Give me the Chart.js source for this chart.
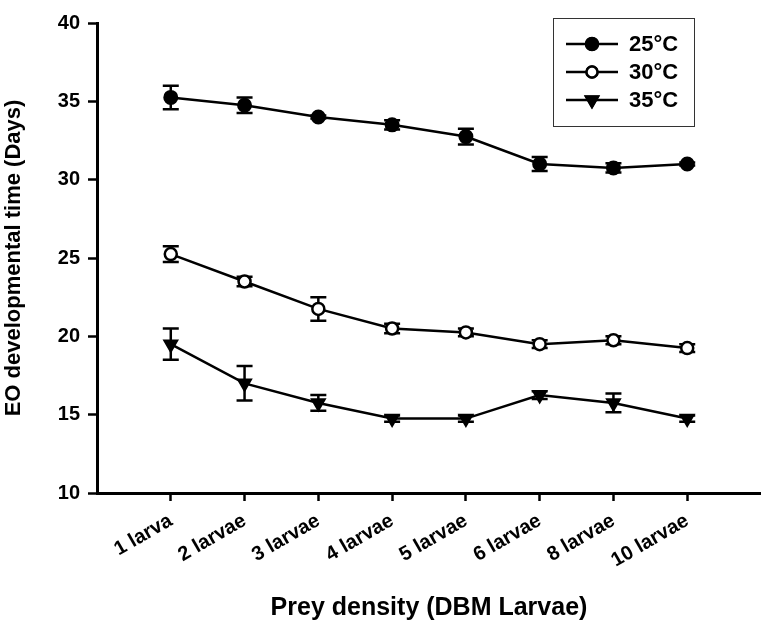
<!DOCTYPE html>
<html>
<head>
<meta charset="utf-8">
<script src="https://cdn.jsdelivr.net/npm/chart.js@4.4.1/dist/chart.umd.min.js"></script>
<style>
  body { margin: 0; background: #fff; }
  #wrap { width: 761px; height: 625px; }
</style>
</head>
<body>
<div id="wrap"><canvas id="devChart" width="761" height="625"></canvas></div>
<script>
// prey density categories (x positions 1..8)
const categories = ['1 larva', '2 larvae', '3 larvae', '4 larvae', '5 larvae', '6 larvae', '8 larvae', '10 larvae'];
const seriesNames = ['25°C', '30°C', '35°C'];

// mean EO developmental time (days) and error bar half-heights
const t25 = [35.25, 34.75, 34.0, 33.5, 32.75, 31.0, 30.75, 31.0];
const t25Err = [0.75, 0.5, 0.1, 0.3, 0.5, 0.45, 0.3, 0.1];
const t30 = [25.25, 23.5, 21.75, 20.5, 20.25, 19.5, 19.75, 19.25];
const t30Err = [0.5, 0.3, 0.75, 0.3, 0.25, 0.25, 0.25, 0.25];
const t35 = [19.5, 17.0, 15.75, 14.75, 14.75, 16.25, 15.75, 14.75];
const t35Err = [1.0, 1.1, 0.5, 0.2, 0.2, 0.25, 0.6, 0.2];

const yTicks = [10, 15, 20, 25, 30, 35, 40];

const FONT = "'Liberation Sans', Arial, sans-serif";

function toPoints(vals) {
    return vals.map((v, i) => ({ x: i + 1, y: v }));
}

function makeSet(label, vals, errs, style) {
    return Object.assign({
        label: label,
        data: toPoints(vals),
        errors: errs,
        borderColor: '#000',
        borderWidth: 2.5,
        pointBorderColor: '#000',
        pointBorderWidth: 2,
        tension: 0
    }, style);
}

const datasets = [
    makeSet(seriesNames[0], t25, t25Err, { pointStyle: 'circle', pointRadius: 6.5, pointBackgroundColor: '#000' }),
    makeSet(seriesNames[1], t30, t30Err, { pointStyle: 'circle', pointRadius: 6, pointBackgroundColor: '#fff', pointBorderWidth: 2.5 }),
    makeSet(seriesNames[2], t35, t35Err, { pointStyle: 'triangle', pointRadius: 7.5, pointRotation: 180, pointBackgroundColor: '#000' })
];

// error bars drawn under the markers
const errorBars = {
    id: 'errorBars',
    beforeDatasetsDraw(chart) {
        const ctx = chart.ctx;
        const yScale = chart.scales.y;
        ctx.save();
        ctx.strokeStyle = '#000';
        ctx.lineWidth = 2.5;
        chart.data.datasets.forEach((ds, di) => {
            const meta = chart.getDatasetMeta(di);
            meta.data.forEach((pt, i) => {
                const v = ds.data[i].y;
                const e = ds.errors[i];
                const top = yScale.getPixelForValue(v + e);
                const bot = yScale.getPixelForValue(v - e);
                const x = pt.x;
                ctx.beginPath();
                ctx.moveTo(x, top); ctx.lineTo(x, bot);
                ctx.moveTo(x - 8, top); ctx.lineTo(x + 8, top);
                ctx.moveTo(x - 8, bot); ctx.lineTo(x + 8, bot);
                ctx.stroke();
            });
        });
        ctx.restore();
    }
};

// boxed legend with line + marker samples
const boxLegend = {
    id: 'boxLegend',
    afterDraw(chart) {
        const ctx = chart.ctx;
        ctx.save();
        ctx.strokeStyle = '#333';
        ctx.lineWidth = 1;
        ctx.strokeRect(553.5, 18.5, 141, 108);
        chart.data.datasets.forEach((ds, i) => {
            const y = 44 + i * 28;
            ctx.strokeStyle = '#000';
            ctx.lineWidth = 2.5;
            ctx.beginPath();
            ctx.moveTo(566, y); ctx.lineTo(618, y);
            ctx.stroke();
            Chart.helpers.drawPoint(ctx, {
                pointStyle: ds.pointStyle,
                radius: ds.pointRadius - 0.5,
                rotation: ds.pointRotation || 0,
                borderWidth: ds.pointBorderWidth
            }, 592, y);
            ctx.fillStyle = ds.pointBackgroundColor;
            ctx.strokeStyle = '#000';
            ctx.lineWidth = ds.pointBorderWidth;
            ctx.fill();
            ctx.stroke();
            ctx.fillStyle = '#000';
            ctx.font = 'bold 22px ' + FONT;
            ctx.textBaseline = 'middle';
            ctx.textAlign = 'left';
            ctx.fillText(ds.label, 629, y + 1);
        });
        ctx.restore();
    }
};

new Chart(document.getElementById('devChart').getContext('2d'), {
    type: 'line',
    data: { datasets: datasets },
    plugins: [errorBars, boxLegend],
    options: {
        responsive: false,
        devicePixelRatio: 1,
        animation: false,
        layout: { autoPadding: false, padding: { top: 23, right: 0, left: 0, bottom: 0 } },
        plugins: { legend: { display: false }, tooltip: { enabled: false } },
        scales: {
            x: {
                type: 'linear',
                min: 0,
                max: 9,
                afterBuildTicks(scale) {
                    scale.ticks = categories.map((c, i) => ({ value: i + 1 }));
                },
                afterFit(scale) {
                    scale.height = 132;
                    scale.paddingLeft = 0;
                    scale.paddingRight = 0;
                },
                border: { display: true, color: '#000', width: 3 },
                grid: { drawOnChartArea: false, drawTicks: true, tickLength: 8, tickWidth: 2.5, tickColor: '#000' },
                ticks: {
                    autoSkip: false,
                    minRotation: 30,
                    maxRotation: 30,
                    padding: 8,
                    color: '#000',
                    font: { family: FONT, size: 20, weight: 'bold' },
                    callback: (v) => categories[v - 1]
                },
                title: {
                    display: true,
                    text: 'Prey density (DBM Larvae)',
                    color: '#000',
                    font: { family: FONT, size: 25, weight: 'bold' },
                    padding: { top: 2, bottom: 2 }
                }
            },
            y: {
                min: 10,
                max: 40,
                afterBuildTicks(scale) {
                    scale.ticks = yTicks.map(v => ({ value: v }));
                },
                afterFit(scale) { scale.width = 97; },
                border: { display: true, color: '#000', width: 3 },
                grid: { drawOnChartArea: false, drawTicks: true, tickLength: 9, tickWidth: 2.5, tickColor: '#000' },
                ticks: {
                    padding: 8,
                    color: '#000',
                    font: { family: FONT, size: 20, weight: 'bold' }
                },
                title: {
                    display: true,
                    text: 'EO developmental time (Days)',
                    color: '#000',
                    font: { family: FONT, size: 22, weight: 'bold' },
                    padding: { top: 1, bottom: 0 }
                }
            }
        }
    }
});
</script>
</body>
</html>
